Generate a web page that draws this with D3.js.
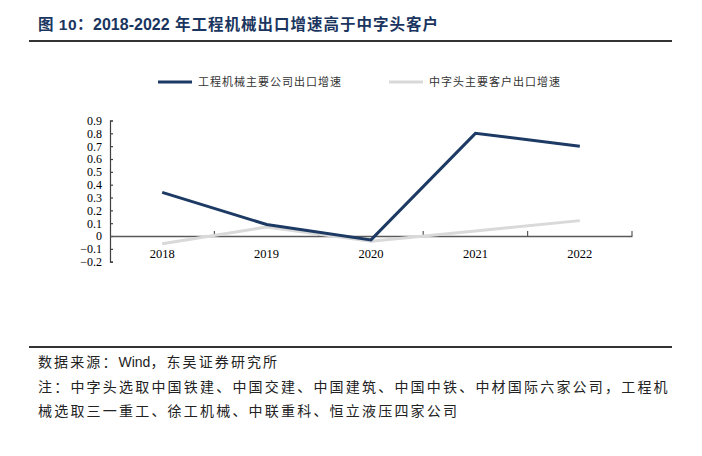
<!DOCTYPE html>
<html><head><meta charset="utf-8">
<script src="https://cdn.jsdelivr.net/npm/d3@7"></script>
<style>body{margin:0;background:#fff}</style>
</head><body>
<script>
const years = ["2018","2019","2020","2021","2022"];
const machinery = [0.34, 0.09, -0.03, 0.80, 0.70];
const stateClients = [-0.06, 0.07, -0.04, 0.04, 0.12];
const yTicks = [0.9,0.8,0.7,0.6,0.5,0.4,0.3,0.2,0.1,0,-0.1,-0.2];
const seriesNames = ["工程机械主要公司出口增速","中字头主要客户出口增速"];
const titleParts = ["图 10：","2018-2022"," 年工程机械出口增速高于中字头客户"];
const sourceParts = ["数据来源：","Wind","，东吴证券研究所"];
const note1 = "注：中字头选取中国铁建、中国交建、中国建筑、中国中铁、中材国际六家公司，工程机";
const note2 = "械选取三一重工、徐工机械、中联重科、恒立液压四家公司";

const W=702,H=456;
const svg=d3.select("body").append("svg").attr("width",W).attr("height",H);
const serif="'Liberation Serif','Times New Roman','Noto Sans CJK SC',serif";
const cjk="'Noto Sans CJK SC','Liberation Sans',sans-serif";
const navy="#1c3a63", gray="#d9d9d9";

// title
const tt=svg.append("text").attr("x",38).attr("y",30).attr("font-family","'Liberation Sans Narrow','Liberation Sans','Noto Sans CJK SC',sans-serif")
  .attr("font-weight","bold").attr("font-size",15.5).attr("fill","#1a3560");
tt.append("tspan").text(titleParts[0]).attr("letter-spacing",0.5);
tt.append("tspan").text(titleParts[1]).attr("font-size",16);
tt.append("tspan").text(titleParts[2]).attr("letter-spacing",1);
svg.append("line").attr("x1",29).attr("x2",672).attr("y1",41).attr("y2",41).attr("stroke","#333").attr("stroke-width",2);

// scales
const x=d3.scaleBand().domain(years).range([110,632]);
const y=d3.scaleLinear().domain([-0.2,0.9]).range([261.7,120.5]);

// y axis
const ya=svg.append("g").attr("transform","translate(110,0)")
  .call(d3.axisLeft(y).tickValues(yTicks).tickSizeInner(-3).tickSizeOuter(-3).tickPadding(8)
    .tickFormat(d=>d===0?"0":d3.format(".1f")(d)));
ya.select(".domain").attr("stroke","#404040").attr("stroke-width",1.2);
ya.selectAll(".tick line").attr("stroke","#404040").attr("stroke-width",1.2);
ya.selectAll("text").attr("font-family",serif).attr("font-size",12).attr("fill","#000");

// x axis at zero
const xa=svg.append("g").attr("transform",`translate(0,${y(0)})`)
  .call(d3.axisBottom(x).tickSize(0).tickSizeOuter(0).tickPadding(13));
xa.select(".domain").attr("stroke","#595959").attr("stroke-width",1.6);
xa.selectAll("text").attr("font-family",serif).attr("font-size",12.5).attr("fill","#000");
xa.selectAll(".tickB").data(years).enter().append("line").attr("class","tickB")
  .attr("x1",d=>x(d)+x.step()).attr("x2",d=>x(d)+x.step()).attr("y1",0).attr("y2",-5)
  .attr("stroke","#595959").attr("stroke-width",1.2);

// lines
const line=d3.line().x((d,i)=>x(years[i])+x.bandwidth()/2).y(d=>y(d));
svg.append("path").datum(stateClients).attr("d",line).attr("fill","none").attr("stroke",gray).attr("stroke-width",3);
svg.append("path").datum(machinery).attr("d",line).attr("fill","none").attr("stroke",navy).attr("stroke-width",3);

// legend
const leg=[{x:158,c:navy,t:seriesNames[0]},{x:389,c:gray,t:seriesNames[1]}];
leg.forEach(l=>{
  svg.append("line").attr("x1",l.x).attr("x2",l.x+34).attr("y1",82).attr("y2",82).attr("stroke",l.c).attr("stroke-width",3);
  svg.append("text").attr("x",l.x+40).attr("y",86).attr("font-family",cjk).attr("font-size",11)
    .attr("letter-spacing",1).attr("fill","#333").text(l.t);
});

// footer
svg.append("line").attr("x1",29).attr("x2",672).attr("y1",347).attr("y2",347).attr("stroke","#333").attr("stroke-width",2);
const src=svg.append("text").attr("x",38).attr("y",367).attr("font-family",cjk).attr("font-size",14).attr("fill","#222");
src.append("tspan").text(sourceParts[0]).attr("letter-spacing",2.1);
src.append("tspan").text(sourceParts[1]).attr("font-family","'Liberation Sans',sans-serif");
src.append("tspan").text(sourceParts[2]).attr("letter-spacing",2.1);
[[note1,392],[note2,416]].forEach(([t,yy])=>{
  svg.append("text").attr("x",38).attr("y",yy).attr("font-family",cjk).attr("font-size",14)
    .attr("letter-spacing",2.2).attr("fill","#222").text(t);
});
</script>
</body></html>
